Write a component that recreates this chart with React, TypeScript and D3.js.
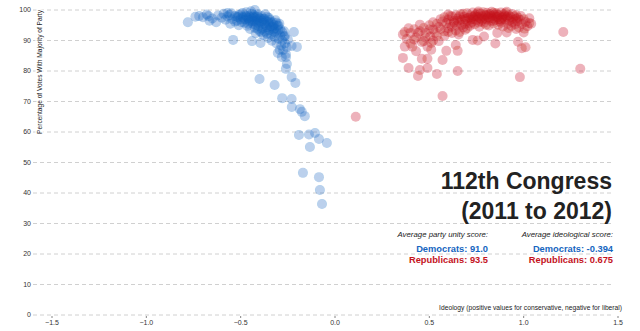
import React from "react";
import * as d3 from "d3";

// [ideology, percentage of votes with party majority]
const democrats: [number, number][] = [
  [-0.78, 96.0], [-0.74, 97.8], [-0.72, 98.0], [-0.70, 97.6], [-0.68, 98.5], [-0.67, 98.0], [-0.665, 96.5],
  [-0.65, 97.2], [-0.63, 96.0], [-0.62, 98.2], [-0.60, 97.5], [-0.59, 98.8], [-0.58, 96.8], [-0.57, 97.9],
  [-0.56, 98.4], [-0.555, 95.5], [-0.545, 97.0], [-0.54, 90.2], [-0.53, 98.0], [-0.52, 96.5], [-0.515, 97.6],
  [-0.51, 95.0], [-0.50, 98.6], [-0.50, 97.0], [-0.495, 96.0], [-0.49, 99.0], [-0.485, 97.5], [-0.48, 95.8],
  [-0.475, 98.2], [-0.47, 96.8], [-0.465, 94.8], [-0.46, 97.3], [-0.455, 98.0], [-0.45, 96.2], [-0.45, 93.8],
  [-0.445, 99.6], [-0.44, 97.0], [-0.44, 89.8], [-0.435, 95.4], [-0.43, 98.3], [-0.43, 96.6], [-0.425, 94.2],
  [-0.42, 97.7], [-0.42, 92.4], [-0.415, 95.9], [-0.41, 98.6], [-0.41, 96.9], [-0.405, 94.7], [-0.40, 97.3],
  [-0.40, 93.1], [-0.395, 89.2], [-0.39, 95.8], [-0.39, 98.0], [-0.385, 96.4], [-0.38, 94.0], [-0.38, 91.8],
  [-0.375, 97.1], [-0.37, 95.2], [-0.37, 92.9], [-0.365, 96.5], [-0.36, 94.3], [-0.36, 97.8], [-0.355, 90.8],
  [-0.35, 95.6], [-0.35, 93.4], [-0.345, 96.8], [-0.34, 91.9], [-0.34, 94.7], [-0.335, 89.9], [-0.33, 96.0],
  [-0.33, 93.0], [-0.325, 95.1], [-0.32, 91.2], [-0.32, 94.0], [-0.315, 96.6], [-0.31, 92.5], [-0.31, 89.0],
  [-0.305, 94.8], [-0.30, 90.6], [-0.30, 93.5], [-0.295, 95.5], [-0.29, 91.7], [-0.285, 88.4], [-0.28, 92.8],
  [-0.28, 90.0], [-0.275, 86.9], [-0.27, 91.3], [-0.265, 89.0], [-0.26, 85.5], [-0.255, 87.8], [-0.25, 90.3],
  [-0.218, 92.8], [-0.23, 88.2], [-0.26, 84.5], [-0.202, 87.9], [-0.293, 86.9], [-0.282, 84.6], [-0.303, 85.9],
  [-0.57, 99.0], [-0.55, 98.9], [-0.53, 96.2], [-0.51, 98.3], [-0.49, 97.8], [-0.47, 99.3], [-0.46, 95.5],
  [-0.44, 98.8], [-0.43, 97.5], [-0.42, 95.2], [-0.41, 93.8], [-0.40, 96.4], [-0.39, 92.6], [-0.38, 97.0],
  [-0.37, 98.6], [-0.36, 92.2], [-0.35, 97.4], [-0.34, 96.0], [-0.33, 94.5], [-0.32, 92.8], [-0.31, 95.8],
  [-0.30, 94.9], [-0.29, 93.7], [-0.27, 93.0], [-0.265, 91.5], [-0.45, 97.6], [-0.48, 96.9], [-0.52, 97.8],
  [-0.44, 96.3], [-0.41, 97.9], [-0.425, 100.0],
  [-0.47, 97.9], [-0.455, 96.7], [-0.435, 97.8], [-0.415, 96.3], [-0.395, 97.2], [-0.375, 95.7], [-0.355, 96.1],
  [-0.345, 94.0], [-0.325, 93.6], [-0.385, 93.6], [-0.365, 94.9], [-0.405, 95.6],
  [-0.40, 77.4], [-0.32, 75.4], [-0.255, 82.3], [-0.26, 80.7], [-0.23, 78.0], [-0.21, 76.1], [-0.28, 71.1],
  [-0.23, 70.8], [-0.229, 68.2], [-0.186, 67.5], [-0.176, 66.6], [-0.16, 65.2], [-0.191, 59.0], [-0.138, 59.2],
  [-0.106, 59.7], [-0.085, 57.7], [-0.043, 56.4], [-0.133, 55.1], [-0.17, 46.6], [-0.085, 45.2], [-0.08, 41.0],
  [-0.069, 36.4],
];

const republicans: [number, number][] = [
  [0.11, 65.0],
  [0.36, 84.3], [0.39, 81.0], [0.44, 78.4], [0.45, 80.3], [0.49, 81.0], [0.54, 79.0], [0.57, 71.8], [0.65, 80.0],
  [0.57, 83.6], [0.59, 86.6], [0.65, 86.6], [0.64, 88.5], [0.37, 88.0], [0.37, 92.8], [0.40, 92.5], [0.41, 88.0],
  [0.46, 84.0], [0.49, 84.0], [0.49, 88.0], [0.52, 90.0], [0.53, 92.5], [0.505, 91.3], [0.44, 92.5], [0.47, 94.1],
  [0.52, 96.0], [0.55, 94.4], [0.59, 95.7], [0.42, 90.3], [0.39, 94.0], [0.45, 95.2], [0.48, 91.0],
  [0.50, 93.6], [0.43, 86.5], [0.46, 89.5], [0.51, 87.0], [0.55, 89.8], [0.58, 91.5], [0.60, 92.8], [0.56, 97.0],
  [0.73, 90.2], [0.756, 90.0], [0.79, 91.3], [0.86, 92.5], [0.91, 92.6], [0.85, 89.0], [0.97, 89.6], [0.99, 87.5],
  [1.01, 87.8], [1.00, 92.6], [1.03, 95.7], [1.21, 92.8], [1.30, 80.7], [0.98, 78.0], [0.655, 92.0], [0.69, 93.5],
  [0.62, 94.5],
  [0.36, 92.0], [0.38, 90.5], [0.40, 89.0], [0.42, 93.7], [0.43, 91.0], [0.45, 93.0], [0.47, 89.8], [0.48, 92.5],
  [0.50, 95.0], [0.51, 89.2], [0.52, 93.6], [0.54, 91.4], [0.54, 95.5],
  [0.56, 93.8], [0.58, 93.0], [0.60, 94.0], [0.62, 92.5], [0.64, 93.3], [0.66, 92.8], [0.60, 98.5],
  [0.57, 96.2], [0.58, 97.6], [0.60, 96.9], [0.61, 95.5], [0.62, 97.9], [0.63, 96.4], [0.64, 98.3], [0.645, 94.9],
  [0.65, 97.2], [0.66, 95.9], [0.665, 98.6], [0.67, 96.8], [0.68, 94.3], [0.685, 97.8], [0.69, 95.4], [0.70, 98.9],
  [0.70, 96.5], [0.71, 97.5], [0.715, 94.8], [0.72, 98.2], [0.725, 96.1], [0.73, 99.2], [0.735, 97.0], [0.74, 95.3],
  [0.745, 98.5], [0.75, 96.7], [0.755, 99.0], [0.76, 97.6], [0.765, 94.5], [0.77, 98.8], [0.775, 96.2], [0.78, 97.9],
  [0.785, 99.3], [0.79, 95.8], [0.795, 98.4], [0.80, 96.9], [0.805, 99.1], [0.81, 97.6], [0.815, 94.9], [0.82, 98.7],
  [0.825, 96.4], [0.83, 99.4], [0.835, 97.3], [0.84, 95.6], [0.845, 98.5], [0.85, 96.8], [0.855, 99.0], [0.86, 97.7],
  [0.865, 95.2], [0.87, 98.3], [0.875, 96.3], [0.88, 99.2], [0.885, 97.5], [0.89, 94.6], [0.895, 98.6], [0.90, 96.9],
  [0.905, 99.0], [0.91, 97.7], [0.915, 95.5], [0.92, 98.3], [0.925, 96.5], [0.93, 97.8], [0.935, 94.8], [0.94, 98.7],
  [0.945, 96.9], [0.95, 97.9], [0.955, 95.3], [0.96, 98.3], [0.965, 96.3], [0.97, 97.5], [0.975, 94.3], [0.98, 96.8],
  [0.985, 98.0], [0.99, 95.4], [1.00, 97.0], [1.005, 93.9], [1.01, 96.1], [1.02, 94.7], [1.03, 97.3], [1.04, 95.5],
  [0.66, 97.9], [0.68, 98.8], [0.70, 97.3], [0.72, 96.9], [0.74, 98.0], [0.76, 99.5], [0.78, 96.8], [0.80, 98.2],
  [0.82, 97.2], [0.84, 99.1], [0.86, 98.5], [0.88, 96.8], [0.90, 98.1], [0.92, 97.2], [0.94, 96.0], [0.96, 97.1],
  [0.72, 95.6], [0.76, 95.9], [0.80, 95.2], [0.84, 96.4], [0.88, 95.8], [0.92, 94.1], [0.96, 93.8], [0.70, 94.0],
  [0.63, 95.8], [0.67, 95.0], [0.61, 98.0], [0.75, 97.8], [0.79, 97.3], [0.83, 98.0], [0.87, 97.0], [0.91, 99.4],
  [0.73, 97.7], [0.77, 97.2], [0.81, 98.4], [0.85, 97.9], [0.69, 97.0], [0.65, 96.5], [0.89, 97.8],
];

const yTicks = [0, 10, 20, 30, 40, 50, 60, 70, 80, 90, 100];
const xTicks = [-1.5, -1.0, -0.5, 0.0, 0.5, 1.0, 1.5];

const titleLines = ["112th Congress", "(2011 to 2012)"];
const unityLabel = "Average party unity score:";
const ideologyLabel = "Average ideological score:";
const unityScores = [
  { party: "Democrats", value: "91.0" },
  { party: "Republicans", value: "93.5" },
];
const ideologyScores = [
  { party: "Democrats", value: "-0.394" },
  { party: "Republicans", value: "0.675" },
];

const BLUE = "#1565c0";
const RED = "#c4121c";
const partyColor: Record<string, string> = { Democrats: BLUE, Republicans: RED };
const FONT = "'Liberation Sans', Arial, Helvetica, sans-serif";

export default function App() {
  const W = 640;
  const H = 331;
  const x = d3.scaleLinear().domain([-1.5, 1.5]).range([52, 618]);
  const y = d3.scaleLinear().domain([0, 100]).range([315, 10]);
  const gridX0 = 33;
  const gridX1 = 612;

  return (
    <svg
      width={W}
      height={H}
      style={{ position: "absolute", left: 0, top: 0, background: "#fff" }}
      fontFamily={FONT}
    >
      <defs>
        <filter id="soft" x="-10%" y="-10%" width="120%" height="120%">
          <feGaussianBlur stdDeviation="0.4" />
        </filter>
      </defs>
      {/* grid */}
      {yTicks.map((t) => (
        <g key={t}>
          <line
            x1={gridX0}
            x2={gridX1}
            y1={y(t)}
            y2={y(t)}
            stroke="#d0d0d0"
            strokeWidth={1}
            strokeDasharray="4,3"
          />
          <text x={31} y={y(t)} dy="0.35em" textAnchor="end" fontSize={7} fill="#333">
            {t}
          </text>
        </g>
      ))}
      {/* x ticks */}
      {xTicks.map((t) => (
        <g key={t} transform={`translate(${x(t)},0)`}>
          <line y1={316} y2={318} stroke="#666" strokeWidth={0.8} />
          <text y={325} textAnchor="middle" fontSize={7} fill="#333">
            {d3.format(".1f")(t)}
          </text>
        </g>
      ))}
      {/* y label */}
      <text
        transform={`translate(42,10) rotate(-90)`}
        textAnchor="end"
        fontSize={6.6}
        fill="#222"
        stroke="#fff"
        strokeWidth={3}
        style={{ paintOrder: "stroke" }}
      >
        Percentage of Votes With Majority of Party
      </text>
      {/* x label */}
      <text x={622} y={310} textAnchor="end" fontSize={6.7} fill="#222">
        Ideology (positive values for conservative, negative for liberal)
      </text>

      {/* points */}
      <g filter="url(#soft)">
        {democrats.map((d, i) => (
          <circle key={"d" + i} cx={x(d[0])} cy={y(d[1])} r={5} fill={BLUE} fillOpacity={0.3} />
        ))}
        {republicans.map((d, i) => (
          <circle key={"r" + i} cx={x(d[0])} cy={y(d[1])} r={5} fill={RED} fillOpacity={0.3} />
        ))}
      </g>

      {/* title */}
      {titleLines.map((t, i) => (
        <text key={t} x={612} y={189 + i * 30} textAnchor="end" fontSize={23} fontWeight="bold" fill="#222">
          {t}
        </text>
      ))}

      {/* stats */}
      <text x={488} y={237} textAnchor="end" fontSize={7.8} fontStyle="italic" fill="#222">
        {unityLabel}
      </text>
      {unityScores.map((s, i) => (
        <text key={s.party} x={488} y={251.5 + i * 11} textAnchor="end" fontSize={9.3} fontWeight="bold" fill={partyColor[s.party]}>
          {`${s.party}: ${s.value}`}
        </text>
      ))}
      <text x={613} y={237} textAnchor="end" fontSize={7.8} fontStyle="italic" fill="#222">
        {ideologyLabel}
      </text>
      {ideologyScores.map((s, i) => (
        <text key={s.party} x={613} y={251.5 + i * 11} textAnchor="end" fontSize={9.3} fontWeight="bold" fill={partyColor[s.party]}>
          {`${s.party}: ${s.value}`}
        </text>
      ))}
    </svg>
  );
}
